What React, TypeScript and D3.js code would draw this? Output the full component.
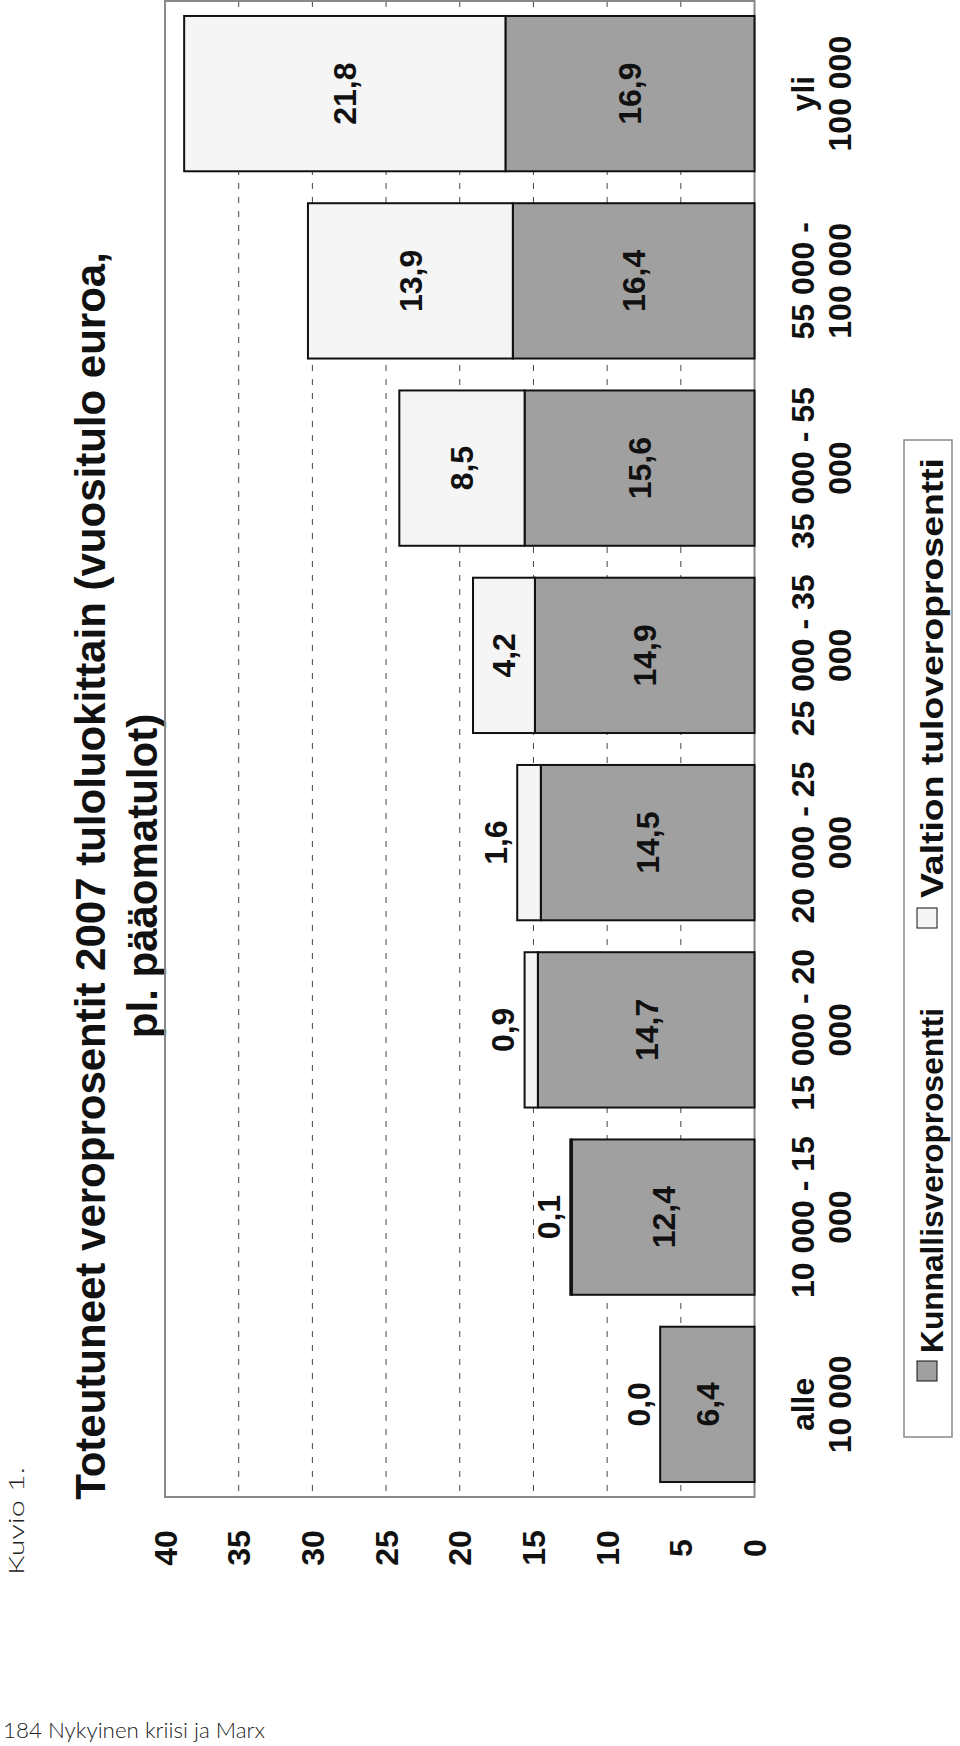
import React from "react";
import * as d3 from "d3";

// ---- data ----
const categoryLine1 = ["alle", "10 000 - 15", "15 000 - 20", "20 000 - 25", "25 000 - 35", "35 000 - 55", "55 000 -", "yli"];
const categoryLine2 = ["10 000", "000", "000", "000", "000", "000", "100 000", "100 000"];
const kunnallisvero = [6.4, 12.4, 14.7, 14.5, 14.9, 15.6, 16.4, 16.9];
const valtionvero = [0.0, 0.1, 0.9, 1.6, 4.2, 8.5, 13.9, 21.8];
const valueTicks = [0, 5, 10, 15, 20, 25, 30, 35, 40];
const seriesNames = ["Kunnallisveroprosentti", "Valtion tuloveroprosentti"];
const titleLines = ["Toteutuneet veroprosentit 2007 tuloluokittain (vuositulo euroa,", "pl. pääomatulot)"];

const GRAY = "#a0a0a0";
const LIGHT = "#f5f5f5";
const FONT = "'Liberation Sans', Arial, Helvetica, sans-serif";

const fmt = (v: number) => v.toFixed(1).replace(".", ",");

export default function App() {
  const W = 960, H = 1746;
  const frame = { left: 165, right: 754.5, top: 1, bottom: 1497 };
  const x = d3.scaleLinear().domain([0, 40]).range([frame.right, frame.left]);
  const idx = categoryLine1.map((_, i) => String(i));
  const y = d3.scaleBand<string>().domain(idx).range([1498, 0]).paddingInner(0.1706).paddingOuter(0.0853);
  const bw = y.bandwidth();
  const gridVals = valueTicks.filter((v) => v > 0 && v < 40);

  return (
    <svg width={W} height={H} style={{ position: "absolute", left: 0, top: 0, background: "#fff" }} fontFamily={FONT}>
      <rect x={0} y={0} width={W} height={H} fill="#fff" />
      {/* Kuvio 1. */}
      <text transform={`translate(24, 1575) rotate(-90)`} fontFamily="Lato, 'DejaVu Sans', sans-serif" fontWeight={300} fontSize={22} textLength={108} lengthAdjust="spacingAndGlyphs" fill="#222">Kuvio 1.</text>
      {/* footer */}
      <text x={3} y={1738} fontFamily="Lato, 'DejaVu Sans', sans-serif" fontWeight={300} fontSize={22} textLength={262} lengthAdjust="spacingAndGlyphs" fill="#222">184 Nykyinen kriisi ja Marx</text>

      {/* title */}
      {titleLines.map((t, i) => (
        <text key={i} transform={`translate(${i === 0 ? 105 : 157}, 876) rotate(-90)`} textAnchor="middle" fontSize={42} fontWeight="bold" fill="#111">{t}</text>
      ))}

      {/* gridlines */}
      {gridVals.map((v) => (
        <line key={v} x1={x(v)} x2={x(v)} y1={frame.top} y2={frame.bottom} stroke="#444" strokeWidth={1} strokeDasharray="6,8" />
      ))}

      {/* frame */}
      <rect x={frame.left} y={frame.top} width={frame.right - frame.left} height={frame.bottom - frame.top} fill="none" stroke="#888" strokeWidth={2} />

      {/* bars */}
      {idx.map((c, i) => {
        const k = kunnallisvero[i];
        const v = valtionvero[i];
        const top = y(c)!;
        return (
          <g key={c}>
            <rect x={x(k)} y={top} width={x(0) - x(k)} height={bw} fill={GRAY} stroke="#111" strokeWidth={2} />
            <rect x={x(k + v)} y={top} width={x(k) - x(k + v)} height={bw} fill={LIGHT} stroke="#111" strokeWidth={2} />
          </g>
        );
      })}

      {/* value labels */}
      {idx.map((c, i) => {
        const k = kunnallisvero[i];
        const v = valtionvero[i];
        const cy = y(c)! + bw / 2;
        const kx = (x(0) + x(k)) / 2;
        const vx = v < 3 ? x(k + v) - 22 : (x(k) + x(k + v)) / 2;
        return (
          <g key={c} fontSize={32} fontWeight="bold" fill="#111">
            <text transform={`translate(${kx}, ${cy}) rotate(-90)`} textAnchor="middle" dy="0.36em">{fmt(k)}</text>
            <text transform={`translate(${vx}, ${cy}) rotate(-90)`} textAnchor="middle" dy="0.36em">{fmt(v)}</text>
          </g>
        );
      })}

      {/* value axis tick labels */}
      {valueTicks.map((v) => (
        <text key={v} transform={`translate(${x(v)}, 1548) rotate(-90)`} textAnchor="middle" dy="0.36em" fontSize={32} fontWeight="bold" fill="#111">{v}</text>
      ))}

      {/* category labels */}
      {idx.map((c, i) => {
        const cy = y(c)! + bw / 2;
        return (
          <g key={c} fontSize={32} fontWeight="bold" fill="#111">
            <text transform={`translate(814, ${cy}) rotate(-90)`} textAnchor="middle">{categoryLine1[i]}</text>
            <text transform={`translate(851, ${cy}) rotate(-90)`} textAnchor="middle">{categoryLine2[i]}</text>
          </g>
        );
      })}

      {/* legend */}
      <rect x={904} y={440} width={48} height={997} fill="#fff" stroke="#888" strokeWidth={1.5} />
      <rect x={917} y={1361} width={20} height={20} fill={GRAY} stroke="#111" strokeWidth={1} />
      <text transform={`translate(943, 1353) rotate(-90)`} fontSize={32} fontWeight="bold" fill="#111" textLength={345} lengthAdjust="spacingAndGlyphs">{seriesNames[0]}</text>
      <rect x={917} y={908} width={20} height={20} fill={LIGHT} stroke="#111" strokeWidth={1} />
      <text transform={`translate(943, 898) rotate(-90)`} fontSize={32} fontWeight="bold" fill="#111" textLength={440} lengthAdjust="spacingAndGlyphs">{seriesNames[1]}</text>
    </svg>
  );
}
